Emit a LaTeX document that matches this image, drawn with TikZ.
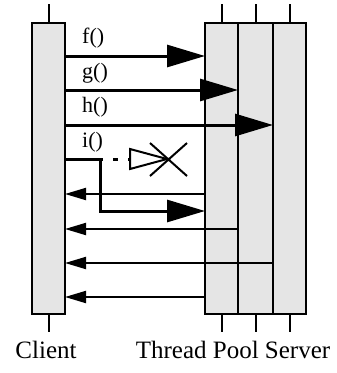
\documentclass[tikz,border=0pt]{standalone}
\usepackage{fontspec}
\setmainfont{Liberation Serif}
\usetikzlibrary{arrows.meta}
\begin{document}
\begin{tikzpicture}[x=1pt,y=-1pt,
  life/.style={draw=black,line width=2pt,fill=black!10,minimum width=33pt,inner sep=0pt,outer sep=0pt},
  tick/.style={line width=2pt},
  call/.style={line width=3pt,-{Triangle[length=38pt,width=22pt]}},
  ret/.style={line width=2pt,-{Triangle[length=21pt,width=12pt]}},
  lbl/.style={font=\fontsize{22}{25}\selectfont,anchor=base west,inner sep=0pt},
  pname/.style={font=\fontsize{25}{28}\selectfont,anchor=base,inner sep=0pt}]
\useasboundingbox (0,0) rectangle (337,373);
% lifelines
\node[life,minimum height=291pt] (client) at (48.5,168.5) {};
\node[life,minimum height=291pt,minimum width=33pt] (t1) at (221.5,168.5) {};
\node[life,minimum height=291pt,minimum width=35pt] (t2) at (255.5,168.5) {};
\node[life,minimum height=291pt,minimum width=33pt] (t3) at (289.5,168.5) {};
% ticks
\foreach \n in {client,t1,t2,t3}{
  \draw[tick] (\n.north) -- ++(0,-19);
  \draw[tick] (\n.south) -- ++(0,18);
}
% calls
\draw[call] (client.east |- 0,56) -- (t1.west |- 0,56);
\draw[call] (client.east |- 0,90) -- (t2.west |- 0,90);
\draw[call] (client.east |- 0,125) -- (t3.west |- 0,125);
\node[lbl] (lf) at (82,43.5) {f()};
\node[lbl] (lg) at (82,78) {g()};
\node[lbl] (lh) at (82,112.5) {h()};
\node[lbl] (li) at (82,147) {i()};
% i() : failed direct call and deferred call
\coordinate (bend) at (100,159);
\coordinate (tri) at (130,159);
\draw[line width=3pt,line join=miter,-{Triangle[length=38pt,width=22pt]}]
  (client.east |- bend) -- (bend) -- (100,211) -- (t1.west |- 0,211);
\draw[line width=3pt,dash pattern=on 5pt off 10pt,dash phase=2pt] (bend) -- (tri);
\draw[line width=2pt,line join=miter] (130,149) -- (167,159) -- (130,169) -- cycle;
\draw[line width=2pt] (150,143) -- (187,176) (150,176) -- (187,143);
% returns
\draw[ret] (t1.west |- 0,194) -- (client.east |- 0,194);
\draw[ret] (t2.west |- 0,229) -- (client.east |- 0,229);
\draw[ret] (t3.west |- 0,263) -- (client.east |- 0,263);
\draw[ret] (t1.west |- 0,297) -- (client.east |- 0,297);
% names
\node[pname] (nc) at (46,358) {Client};
\node[pname] (ns) at (233,358) {Thread Pool Server};
\end{tikzpicture}
\end{document}
